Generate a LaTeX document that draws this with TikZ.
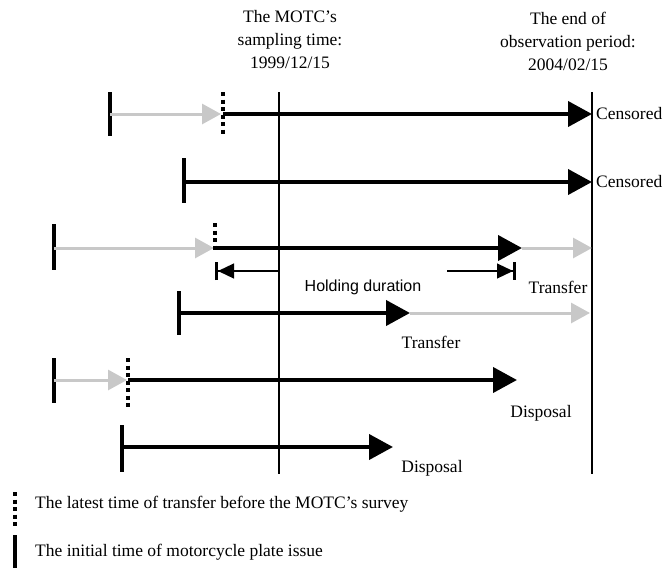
\documentclass[tikz,border=0pt]{standalone}
\usepackage{fontspec}
\setmainfont{Liberation Serif}
\newfontfamily\hsans{Liberation Sans}
\usetikzlibrary{arrows.meta}
\definecolor{lgray}{RGB}{200,200,200}
\tikzset{
  vline/.style={line width=1.2pt,black},
  ibar/.style={line width=4pt,black},
  dbar/.style={line width=4pt,black,dash pattern=on 4pt off 3.5pt},
  blk/.style={line width=4pt,black,-{Triangle[length=24pt,width=25pt]}},
  gry/.style={line width=3pt,lgray,-{Triangle[length=19pt,width=20pt]}},
  hold/.style={line width=1.2pt,black,-{Triangle[length=16pt,width=15pt]Bar[width=18pt,line width=3pt]}},
  lbl/.style={font=\fontsize{17.5}{23}\selectfont,inner sep=0pt},
}
\begin{document}
\begin{tikzpicture}[x=1pt,y=-1pt]
\useasboundingbox (0,0) rectangle (665,568);
% headers
\node[lbl,align=center] (hm) at (290,40) {The MOTC's\\sampling time:\\1999/12/15};
\node[lbl,align=center] (he) at (568,41) {The end of\\observation period:\\2004/02/15};
% vertical reference lines
\coordinate (mt) at (279,92); \coordinate (mb) at (279,474);
\coordinate (et) at (592,92); \coordinate (eb) at (592,474);
\draw[vline] (mt) -- (mb);
\draw[vline] (et) -- (eb);
% row 1
\coordinate (s1) at (110,114); \coordinate (t1) at (223,114); \coordinate (e1) at (592,114);
\draw[ibar] (110,92) -- (110,136);
\draw[gry] (s1) -- (221,114);
\draw[dbar] (223,92) -- (223,134);
\draw[blk] (t1) -- (e1);
\node[lbl,anchor=west] (c1) at (596,114) {Censored};
% row 2
\coordinate (s2) at (184,182); \coordinate (e2) at (592,182);
\draw[ibar] (184,158) -- (184,203);
\draw[blk] (s2) -- (e2);
\node[lbl,anchor=west] (c2) at (596,182) {Censored};
% row 3
\coordinate (s3) at (54,248); \coordinate (t3) at (215,248); \coordinate (x3) at (522,248); \coordinate (e3) at (592,248);
\draw[ibar] (54,224) -- (54,270);
\draw[gry] (s3) -- (214,248);
\draw[dbar] (215,223) -- (215,251);
\draw[blk] (t3) -- (x3);
\draw[gry] (x3) -- (e3);
% holding duration
\coordinate (h1) at (279,271); \coordinate (h2) at (215,271);
\coordinate (h3) at (447,271); \coordinate (h4) at (516,271);
\draw[hold] (h1) -- (h2);
\draw[hold] (h3) -- (h4);
\node[font=\hsans\fontsize{16}{20}\selectfont,inner sep=0pt] (hd) at (363,287) {Holding duration};
\node[lbl] (tr1) at (558,287) {Transfer};
% row 4
\coordinate (s4) at (179,313); \coordinate (x4) at (410,313); \coordinate (e4) at (590,313);
\draw[ibar] (179,291) -- (179,335);
\draw[blk] (s4) -- (x4);
\draw[gry] (x4) -- (e4);
\node[lbl] (tr2) at (431,342) {Transfer};
% row 5
\coordinate (s5) at (54,380); \coordinate (t5) at (128,380); \coordinate (e5) at (517,380);
\draw[ibar] (54,358) -- (54,403);
\draw[gry] (s5) -- (127,380);
\draw[dbar] (128,358) -- (128,408);
\draw[blk] (t5) -- (e5);
\node[lbl] (d1) at (541,413) {Disposal};
% row 6
\coordinate (s6) at (122,447); \coordinate (e6) at (393,447);
\draw[ibar] (122,425) -- (122,472);
\draw[blk] (s6) -- (e6);
\node[lbl] (d2) at (432,468) {Disposal};
% legend
\draw[dbar] (15,492) -- (15,528);
\draw[ibar] (15,535) -- (15,568);
\node[lbl,anchor=west] (l1) at (35,504) {The latest time of transfer before the MOTC's survey};
\node[lbl,anchor=west] (l2) at (35,552) {The initial time of motorcycle plate issue};
\end{tikzpicture}
\end{document}
